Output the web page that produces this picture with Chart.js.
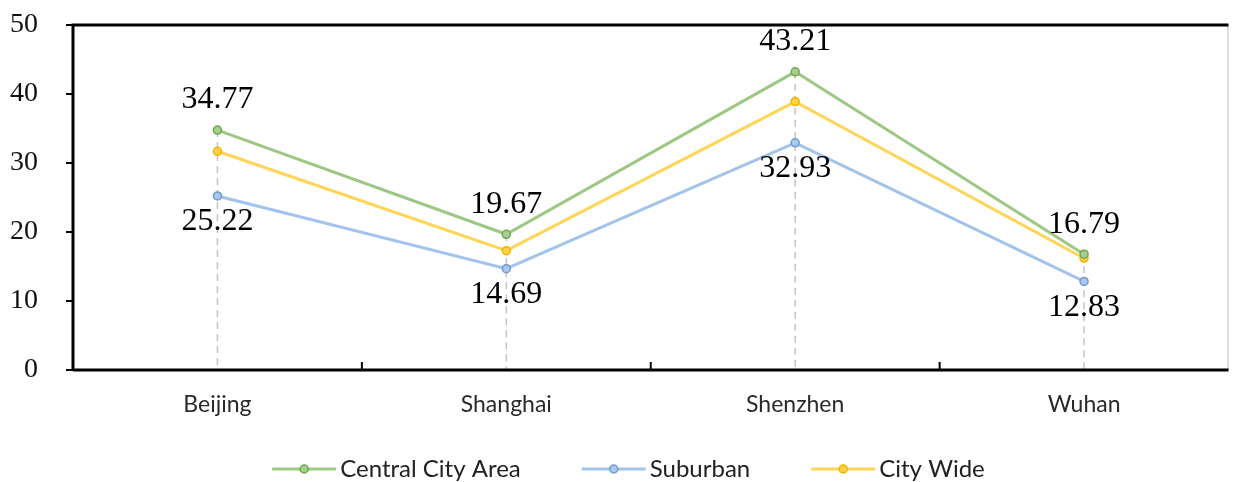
<!DOCTYPE html>
<html><head><meta charset="utf-8">
<script src="https://cdn.jsdelivr.net/npm/chart.js@4"></script>
<style>html,body{margin:0;padding:0;background:#fff;}#wrap{width:1234px;height:482px;}</style>
</head><body><div id="wrap"><canvas id="c" width="1234" height="482"></canvas></div>
<script>
const categories = ["Beijing", "Shanghai", "Shenzhen", "Wuhan"];
const centralCity = [34.77, 19.67, 43.21, 16.79];
const suburban = [25.22, 14.69, 32.93, 12.83];
const cityWide = [31.7, 17.3, 38.9, 16.2];
const yTicks = [0, 10, 20, 30, 40, 50];

const LEGEND_GAP = 51;   // blank space before each legend marker
const frameAndLabels = {
  id: 'frameAndLabels',
  afterLayout(chart) {
    const lg = chart.legend;
    if (lg) { lg.left -= 13; lg.right -= 13; }
  },
  beforeDatasetsDraw(chart) {
    const ctx = chart.ctx, ys = chart.scales.y;
    const m0 = chart.getDatasetMeta(0);
    ctx.save();
    ctx.strokeStyle = '#c4c4c4'; ctx.lineWidth = 1.5; ctx.setLineDash([7, 5]);
    m0.data.forEach(p => {
      ctx.beginPath(); ctx.moveTo(p.x, p.y); ctx.lineTo(p.x, ys.getPixelForValue(0)); ctx.stroke();
    });
    ctx.restore();
  },
  afterDatasetsDraw(chart) {
    const ctx = chart.ctx, a = chart.chartArea, xs = chart.scales.x;
    ctx.save();
    ctx.strokeStyle = '#bdbdbd'; ctx.lineWidth = 1;
    ctx.beginPath(); ctx.moveTo(a.right - 0.5, a.top); ctx.lineTo(a.right - 0.5, a.bottom); ctx.stroke();
    ctx.strokeStyle = '#000'; ctx.lineWidth = 3;
    ctx.beginPath(); ctx.moveTo(a.left, a.bottom); ctx.lineTo(a.left, a.top); ctx.lineTo(a.right, a.top); ctx.stroke();
    ctx.beginPath(); ctx.moveTo(a.left, a.bottom); ctx.lineTo(a.right, a.bottom); ctx.stroke();
    ctx.lineWidth = 2;
    for (let i = 1; i < categories.length; i++) {
      const x = (xs.getPixelForTick(i - 1) + xs.getPixelForTick(i)) / 2;
      ctx.beginPath(); ctx.moveTo(x, a.bottom); ctx.lineTo(x, a.bottom - 8); ctx.stroke();
    }
    ctx.fillStyle = '#000';
    ctx.font = '32px "Liberation Serif"';
    ctx.textAlign = 'center'; ctx.textBaseline = 'middle';
    chart.getDatasetMeta(0).data.forEach((p, i) => ctx.fillText(centralCity[i].toFixed(2), p.x, p.y - 30));
    chart.getDatasetMeta(1).data.forEach((p, i) => ctx.fillText(suburban[i].toFixed(2), p.x, p.y + 26));
    ctx.restore();
  },
  afterDraw(chart) {
    const lg = chart.legend, ctx = chart.ctx;
    if (!lg || !lg.legendHitBoxes) return;
    ctx.save();
    lg.legendHitBoxes.forEach((hb, i) => {
      const ds = chart.data.datasets[i];
      const bw = lg.options.labels.boxWidth;
      const x0 = hb.left + LEGEND_GAP, x1 = hb.left + bw + 8;
      const cy = hb.top + hb.height / 2;
      ctx.beginPath(); ctx.moveTo(x0, cy); ctx.lineTo(x1, cy);
      ctx.lineWidth = 3; ctx.strokeStyle = ds.borderColor; ctx.stroke();
      const cx = (x0 + x1) / 2;
      ctx.beginPath(); ctx.arc(cx, cy, 4, 0, Math.PI * 2);
      ctx.fillStyle = ds.pointBackgroundColor; ctx.fill();
      ctx.lineWidth = 1.5; ctx.strokeStyle = ds.pointBorderColor; ctx.stroke();
    });
    ctx.restore();
  }
};

const mk = (label, data, line, pfill, pborder) => ({
  label, data, borderColor: line, backgroundColor: line, borderWidth: 3,
  pointRadius: 4, pointHoverRadius: 4, pointBackgroundColor: pfill, pointBorderColor: pborder, pointBorderWidth: 1.5,
  tension: 0, fill: false
});

new Chart(document.getElementById('c'), {
  type: 'line',
  data: {
    labels: categories,
    datasets: [
      mk('Central City Area', centralCity, '#9dc883', '#a6d08e', '#6fa550'),
      mk('Suburban', suburban, '#a3c4ea', '#a9c8ec', '#6f9bd1'),
      mk('City Wide', cityWide, '#ffd457', '#ffd24a', '#f2b400')
    ]
  },
  options: {
    responsive: false, animation: false,
    layout: { padding: { left: 0, right: 2, top: 25, bottom: -9 } },
    plugins: {
      tooltip: { enabled: false },
      legend: {
        position: 'bottom',
        labels: {
          boxWidth: 56 + LEGEND_GAP, boxHeight: 3, padding: 10, color: '#222',
          font: { family: 'Lato', size: 24 },
          generateLabels(chart) {
            return chart.data.datasets.map((ds, i) => ({
              text: ds.label, fillStyle: 'rgba(0,0,0,0)', strokeStyle: 'rgba(0,0,0,0)', lineWidth: 0,
              fontColor: '#222', datasetIndex: i, hidden: false
            }));
          }
        }
      }
    },
    scales: {
      x: {
        offset: true,
        grid: { display: false, drawTicks: false },
        border: { display: false },
        ticks: { color: '#2a2a2a', font: { family: 'Lato', size: 23 }, padding: 21 },
        afterFit(s) { s.height = 77; s.paddingLeft = 0; s.paddingRight = 0; }
      },
      y: {
        min: 0, max: 50,
        afterBuildTicks(s) { s.ticks = yTicks.map(v => ({ value: v })); },
        grid: { drawOnChartArea: false, drawTicks: true, tickLength: 7, color: '#000', lineWidth: 2 },
        border: { display: false },
        ticks: { color: '#111', font: { family: 'Liberation Serif', size: 28 }, padding: 28 },
        afterFit(s) { s.width = 73; s.paddingTop = 0; s.paddingBottom = 0; }
      }
    }
  },
  plugins: [frameAndLabels]
});
</script></body></html>
